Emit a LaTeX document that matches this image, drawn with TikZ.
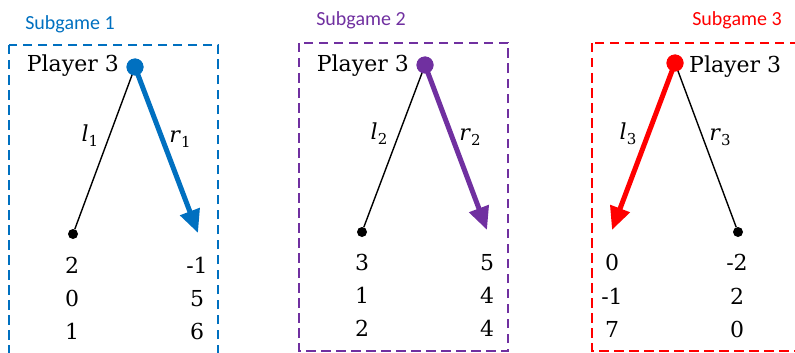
\documentclass[tikz,border=0pt]{standalone}
\usepackage{fontspec}
\setmainfont{DejaVu Serif}
\newfontfamily\calib{Carlito}
\usetikzlibrary{arrows.meta}
\definecolor{sgblue}{RGB}{0,112,192}
\definecolor{sgpurple}{RGB}{112,48,160}
\definecolor{sgred}{RGB}{255,0,0}
\newcommand{\lab}[2]{\textit{#1}\raisebox{-0.25em}{\fontsize{15}{18}\selectfont #2}}
\begin{document}
\begin{tikzpicture}[x=1pt,y=-1pt,
  rootdot/.style={circle, inner sep=0pt, minimum size=17pt},
  leafdot/.style={circle, fill=black, inner sep=0pt, minimum size=10pt},
  sgbox/.style={dash pattern=on 9.5pt off 5.5pt, line width=2.3pt},
  thinedge/.style={line width=1.4pt},
  choice/.style={line width=5pt, -{Triangle[length=23pt,width=20pt]}},
  txt/.style={font=\fontsize{22}{26}\selectfont, inner sep=0pt, anchor=base},
  sglabel/.style={font=\calib\fontsize{20}{24}\selectfont, inner sep=0pt, anchor=base}]
\useasboundingbox (0,0) rectangle (795,353);
\clip (0,0) rectangle (795,353);

% boxes
\draw[sgbox, sgblue] (9,45) rectangle (218,380);
\draw[sgbox, sgpurple] (299,43) rectangle (508,351);
\draw[sgbox, sgred] (592,43) rectangle (830,351);

% subgame labels
\node[sglabel, text=sgblue] (s1) at (70,30) {Subgame 1};
\node[sglabel, text=sgpurple] (s2) at (361,26) {Subgame 2};
\node[sglabel, text=sgred] (s3) at (737,26) {Subgame 3};

% ---- subgame 1
\node[rootdot, fill=sgblue] (r1) at (135,67) {};
\node[leafdot] (f1) at (73,234) {};
\coordinate (t1) at (198,233);
\draw[thinedge] (r1.center) -- (f1);
\draw[choice, sgblue] (r1.center) -- (t1);
\node[rootdot, fill=sgblue] at (r1) {};
\node[txt, anchor=base east] (p1) at (119,72) {Player 3};
\node[txt] (l1) at (90,141) {\lab{l}{1}};
\node[txt] (rr1) at (180,142) {\lab{r}{1}};
\node[txt] (a11) at (72,273) {2};
\node[txt] (a12) at (72,306) {0};
\node[txt] (a13) at (72,339) {1};
\node[txt] (b11) at (197,273) {-1};
\node[txt] (b12) at (197,306) {5};
\node[txt] (b13) at (197,339) {6};

% ---- subgame 2
\node[rootdot, fill=sgpurple] (r2) at (425,65) {};
\node[leafdot] (f2) at (362,232) {};
\coordinate (t2) at (487,230);
\draw[thinedge] (r2.center) -- (f2);
\draw[choice, sgpurple] (r2.center) -- (t2);
\node[rootdot, fill=sgpurple] at (r2) {};
\node[txt, anchor=base east] (p2) at (409,72) {Player 3};
\node[txt] (l2) at (379,139) {\lab{l}{2}};
\node[txt] (rr2) at (470,140) {\lab{r}{2}};
\node[txt] (a21) at (362,270) {3};
\node[txt] (a22) at (362,303) {1};
\node[txt] (a23) at (362,336) {2};
\node[txt] (b21) at (487,270) {5};
\node[txt] (b22) at (487,303) {4};
\node[txt] (b23) at (487,336) {4};

% ---- subgame 3
\node[rootdot, fill=sgred] (r3) at (675,63) {};
\node[leafdot] (f3) at (738,232) {};
\coordinate (t3) at (612,230);
\draw[thinedge] (r3.center) -- (f3);
\draw[choice, sgred] (r3.center) -- (t3);
\node[rootdot, fill=sgred] at (r3) {};
\node[txt, anchor=base west] (p3) at (689,73) {Player 3};
\node[txt] (l3) at (628,139) {\lab{l}{3}};
\node[txt] (rr3) at (720,140) {\lab{r}{3}};
\node[txt] (a31) at (612,270) {0};
\node[txt] (a32) at (612,304) {-1};
\node[txt] (a33) at (612,337) {7};
\node[txt] (b31) at (737,270) {-2};
\node[txt] (b32) at (737,304) {2};
\node[txt] (b33) at (737,337) {0};
\end{tikzpicture}
\end{document}
